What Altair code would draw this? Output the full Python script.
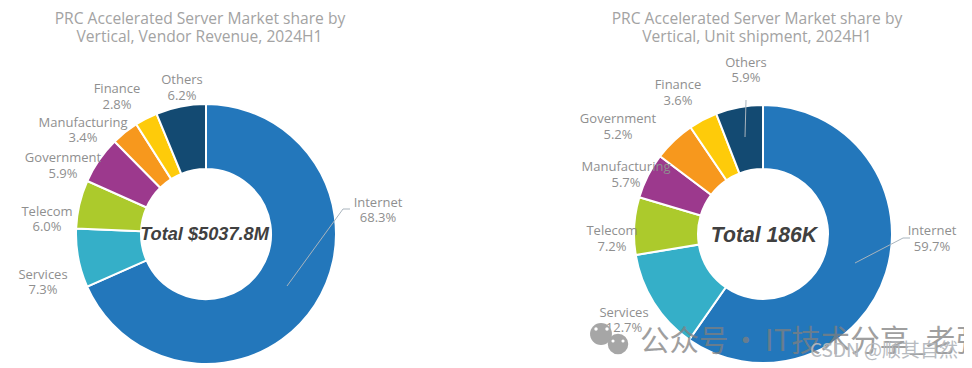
import altair as alt
import pandas as pd

names_left = ["Internet", "Services", "Telecom", "Government", "Manufacturing", "Finance", "Others"]
values_left = [68.3, 7.3, 6.0, 5.9, 3.4, 2.8, 6.2]
names_right = ["Internet", "Services", "Telecom", "Manufacturing", "Government", "Finance", "Others"]
values_right = [59.7, 12.7, 7.2, 5.7, 5.2, 3.6, 5.9]
slice_colors = ["#2377bb", "#35afc8", "#acca2c", "#9c398d", "#f7981d", "#fecb0a", "#134a72"]

title_left = ["PRC Accelerated Server Market share by", "Vertical, Vendor Revenue, 2024H1"]
title_right = ["PRC Accelerated Server Market share by", "Vertical, Unit shipment, 2024H1"]
total_left = "Total $5037.8M"
total_right = "Total 186K"
wm_parts = ["公众号", "·", "IT技术分享_老张"]
wm_csdn = "CSDN @顺其自然"

OX, OY = 8, 8
GREY = "#8f8f8f"


def frame(names, values):
    return pd.DataFrame({
        "name": names, "value": values, "idx": list(range(len(names))), "color": slice_colors,
    })


def donut(names, values, cx, cy, r, r2):
    return alt.Chart(frame(names, values)).mark_arc(
        radius=r, radius2=r2, stroke="white", strokeWidth=2
    ).encode(
        x=alt.value(cx - OX), y=alt.value(cy - OY),
        theta=alt.Theta("value:Q", stack=True),
        order=alt.Order("idx:Q"),
        color=alt.Color("color:N", scale=None),
    )


def text(s, x, y, **kw):
    return alt.Chart(pd.DataFrame({"t": [s]})).mark_text(**kw).encode(
        x=alt.value(x - OX), y=alt.value(y - OY), text="t:N"
    )


def label(name, value, x, y1, y2):
    f = dict(font="Open Sans", fontSize=13, color=GREY, align="center", baseline="middle")
    return [text(name, x, y1, **f), text(f"{value}%", x, y2, **f)]


def seg(x1, y1, x2, y2, color="#a9b4bd"):
    return alt.Chart(pd.DataFrame({"a": [0]})).mark_rule(color=color, strokeWidth=1).encode(
        x=alt.value(x1 - OX), x2=alt.value(x2 - OX), y=alt.value(y1 - OY), y2=alt.value(y2 - OY)
    )


def dot(x, y, size, color, opacity=1.0):
    return alt.Chart(pd.DataFrame({"a": [0]})).mark_circle(color=color, opacity=opacity).encode(
        x=alt.value(x - OX), y=alt.value(y - OY), size=alt.value(size)
    )


L = dict(zip(names_left, values_left))
R = dict(zip(names_right, values_right))
layers = [donut(names_left, values_left, 206, 234, 130, 65)]
layers2 = [donut(names_right, values_right, 763, 234, 129, 65)]

tf = dict(font="Open Sans", fontSize=15.6, color="#a3a3a3", align="center", baseline="middle")
others = [
    text(title_left[0], 200, 18.5, **tf), text(title_left[1], 199.5, 37, **tf),
    text(title_right[0], 757, 18.5, **tf), text(title_right[1], 757, 37, **tf),
    seg(287, 286, 343, 209), seg(343, 209, 350, 209),
    seg(855, 263, 903, 238), seg(903, 238, 910, 238),
    seg(745, 137, 746, 100),
]
for n, x, y1, y2 in [("Others", 182, 79.5, 95.5), ("Finance", 117, 88.5, 104.5), ("Manufacturing", 83, 122.5, 138),
                     ("Government", 63, 158, 174), ("Telecom", 47, 211.5, 227), ("Services", 43, 274.5, 290),
                     ("Internet", 378, 202.5, 218)]:
    others += label(n, L[n], x, y1, y2)
for n, x, y1, y2 in [("Others", 746, 62.5, 78), ("Finance", 678, 85, 100.5), ("Government", 618, 119, 135),
                     ("Manufacturing", 626, 167, 183), ("Telecom", 612, 231, 246.5), ("Services", 624, 312.5, 328),
                     ("Internet", 932, 231, 246.5)]:
    others += label(n, R[n], x, y1, y2)

cf = dict(font="Liberation Sans", fontWeight="bold", fontStyle="italic", color="#404040",
          align="center", baseline="middle")
others += [
    text(total_left, 204.5, 235, fontSize=18.2, **cf),
    text(total_right, 764, 236, fontSize=21.2, **cf),
]
# watermark
wf = dict(font="Noto Sans CJK SC", fontSize=29.5, color="#808080", opacity=0.75, align="left", baseline="middle")
others += [
    dot(601, 334, 480, "#a6a6a6"), dot(618, 344, 420, "#a6a6a6"),
    dot(596, 329, 12, "white"), dot(607, 329, 12, "white"),
    dot(613, 341, 10, "white"), dot(623, 341, 10, "white"),
    text(wm_parts[0], 640, 342, **wf),
    text(wm_parts[1], 731, 342, **wf),
    text(wm_parts[2], 765, 342, **wf),
    text(wm_csdn, 810, 351, font="Noto Sans CJK SC", fontSize=19, color="#b4b8bd", opacity=0.95,
         align="left", baseline="middle"),
]

chart = alt.layer(*layers, *layers2, *others).resolve_scale(theta="independent").properties(
    width=956, height=356, padding=0, autosize=alt.AutoSizeParams(type="none")
).configure_view(stroke=None)

chart.save("out.html", embed_options={"renderer": "svg", "actions": False})
